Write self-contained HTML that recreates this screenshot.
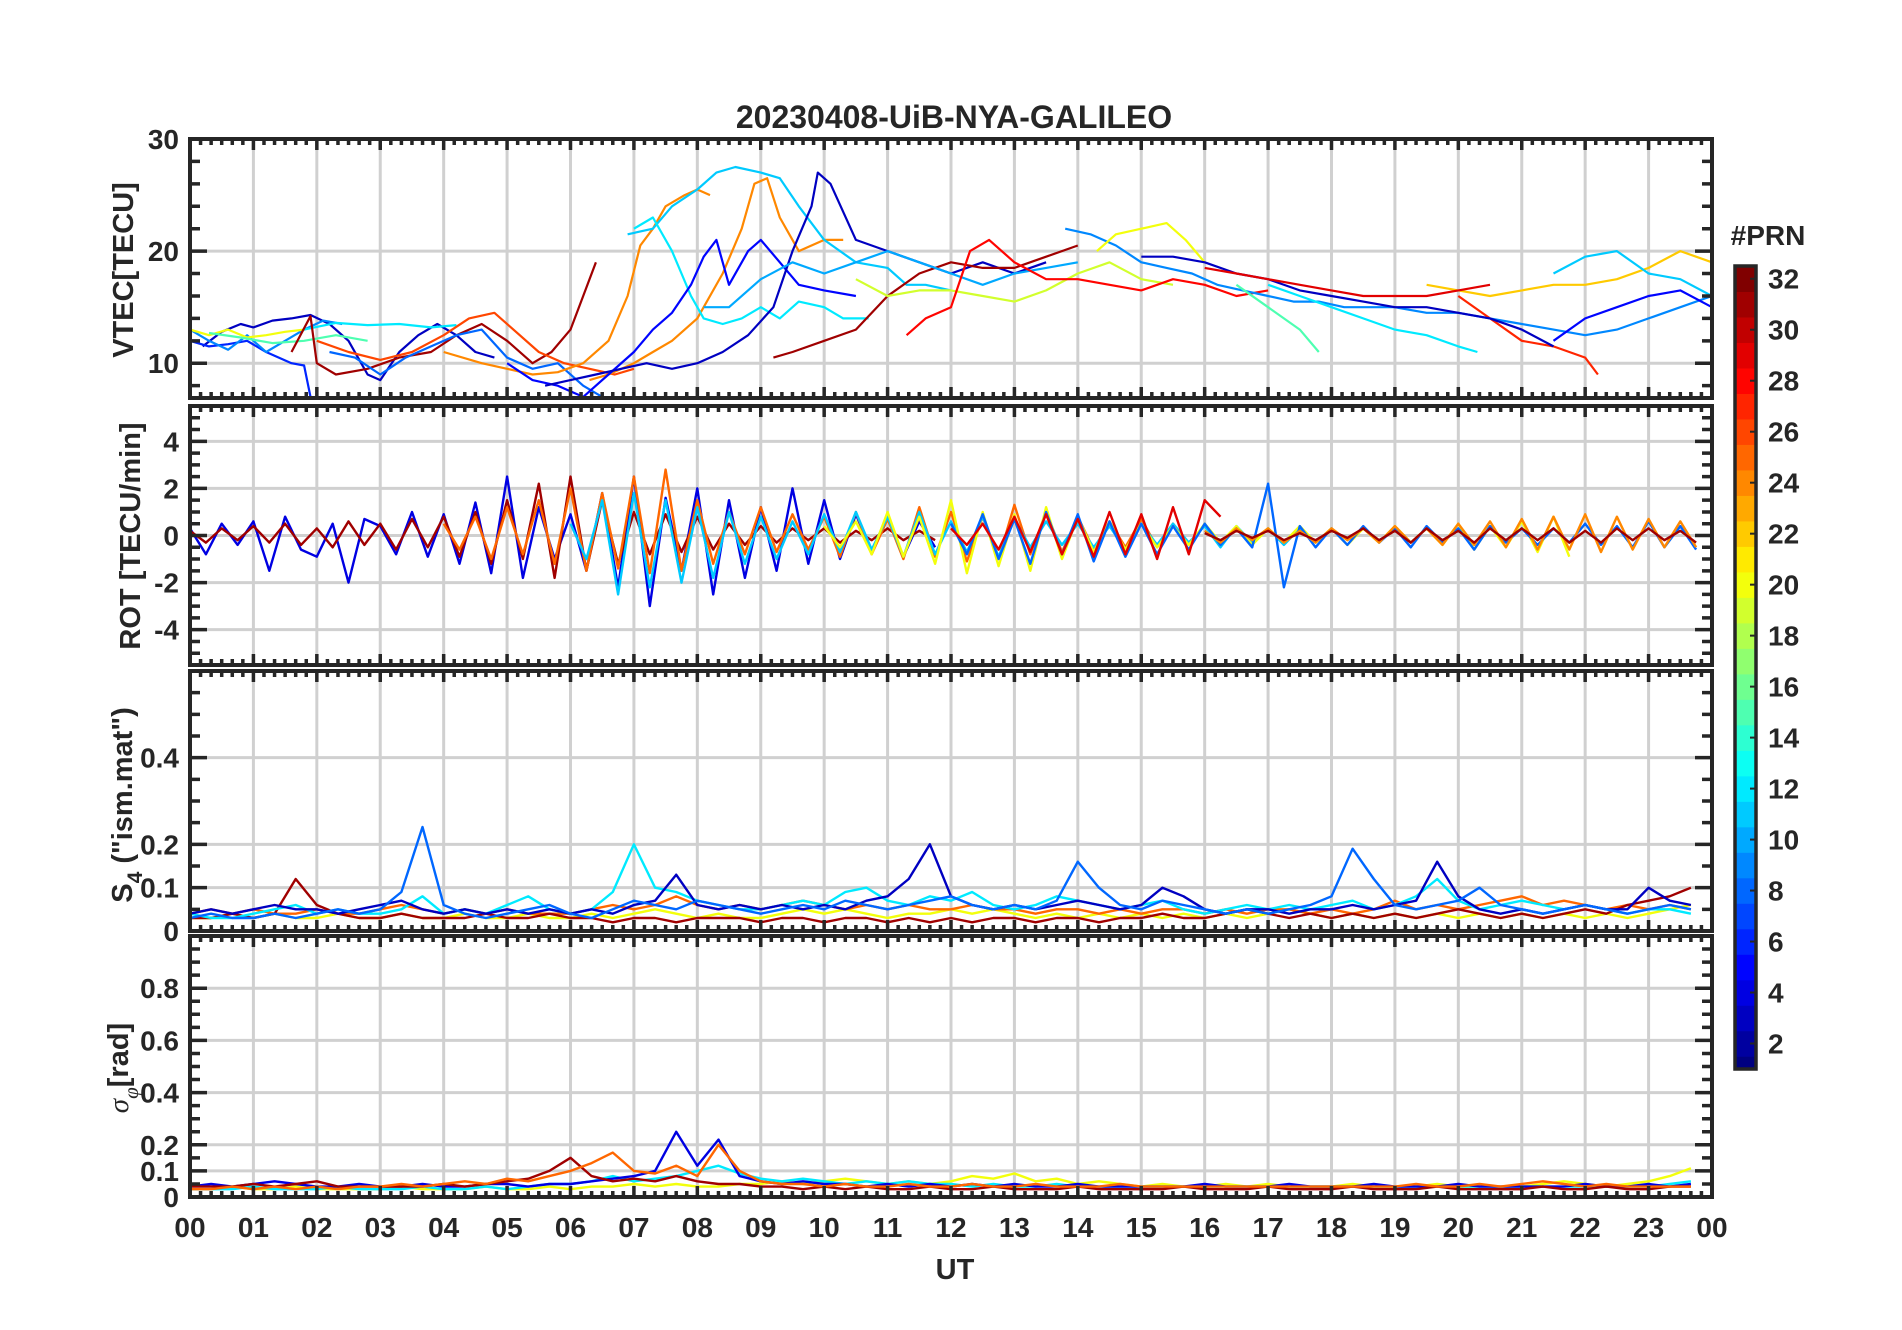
<!DOCTYPE html>
<html><head><meta charset="utf-8">
<style>
html,body{margin:0;padding:0;background:#fff;}
svg{display:block;}
text{font-family:"Liberation Sans",Arial,sans-serif;font-weight:bold;fill:#262626;}
</style></head>
<body>
<svg id="fig" xmlns="http://www.w3.org/2000/svg" width="1902" height="1330" viewBox="0 0 1902 1330">
<rect width="1902" height="1330" fill="#fff"/>
<text x="954" y="128" font-size="32" text-anchor="middle">20230408-UiB-NYA-GALILEO</text>
<g id="panels"></g>
<text x="955" y="1279" font-size="29" text-anchor="middle">UT</text>
<text transform="translate(133,270) rotate(-90)" font-size="29" text-anchor="middle">VTEC[TECU]</text>
<text transform="translate(140,536) rotate(-90)" font-size="29" text-anchor="middle">ROT [TECU/min]</text>
<text transform="translate(132,805) rotate(-90)" font-size="29" text-anchor="middle">S<tspan font-size="21" dy="10">4</tspan><tspan dy="-10"> ("ism.mat")</tspan></text>
<text transform="translate(128,1068) rotate(-90)" font-size="29" text-anchor="middle"><tspan font-style="italic" font-weight="normal" font-family="Liberation Serif, serif">σ</tspan><tspan font-size="21" dy="10" font-style="italic" font-weight="normal" font-family="Liberation Serif, serif">φ</tspan><tspan dy="-10">[rad]</tspan></text>
<g id="colorbar"></g>
<text x="1768" y="245" font-size="28" text-anchor="middle">#PRN</text>
</svg>
<script>
// ---------- data ----------
const hourLabels = ["00","01","02","03","04","05","06","07","08","09","10","11","12","13","14","15","16","17","18","19","20","21","22","23","00"];
const vtecTicks = [10,20,30];
const rotTicks = [-4,-2,0,2,4];
const s4Ticks = [0,0.1,0.2,0.4];
const sigTicks = [0,0.1,0.2,0.4,0.6,0.8];
const cbTicks = [2,4,6,8,10,12,14,16,18,20,22,24,26,28,30,32];

const vtecPrn = [3,6,9,20,15,12,31,8,26,24,24,11,12,5,3,31,10,19,28,9,20,22,27,3,12,11,29,5,15];
const vtecTimes = [
[0.2,0.5,0.8,1.0,1.3,1.6,1.9,2.2,2.5,2.8,3.0,3.3,3.6,3.9,4.2,4.5,4.8],
[0,0.3,0.6,0.9,1.2,1.4,1.6,1.8,1.9],
[0,0.3,0.6,0.9,1.2,1.5,1.8,2.1,2.4],
[0,0.3,0.6,0.9,1.2,1.5,1.8],
[0.3,0.8,1.3,1.8,2.3,2.8],
[1.8,2.3,2.8,3.3,3.8,4.2],
[1.6,1.9,2.0,2.3,2.8,3.3,3.8,4.2,4.6,5.0,5.4,5.7,6.0,6.2,6.4],
[2.2,2.6,3.0,3.4,3.8,4.2,4.6,5.0,5.4,5.8,6.2,6.5],
[2.0,2.5,3.0,3.5,4.0,4.4,4.8,5.1,5.5,5.9,6.3,6.7,7.0],
[4.0,4.6,5.0,5.4,5.8,6.2,6.6,6.9,7.1,7.3,7.5,7.8,8.0,8.2],
[6.3,6.6,7.0,7.3,7.6,8.0,8.4,8.7,8.9,9.1,9.3,9.6,10.0,10.3],
[6.9,7.3,7.6,8.0,8.3,8.6,9.0,9.3,9.6,10.0,10.5,11.0,11.3,11.6,12.0],
[7.0,7.3,7.6,7.9,8.1,8.4,8.7,9.0,9.3,9.6,10.0,10.3,10.7],
[5.0,5.4,5.8,6.2,6.6,7.0,7.3,7.6,7.9,8.1,8.3,8.5,8.8,9.0,9.3,9.6,10.0,10.5],
[5.6,6.0,6.4,6.8,7.2,7.6,8.0,8.4,8.8,9.2,9.5,9.8,9.9,10.1,10.5,11,11.5,12,12.5,13,13.5],
[9.2,9.5,10,10.5,11,11.5,12,12.5,13,13.5,14],
[8.1,8.5,9,9.5,10,10.5,11,11.5,12,12.5,13,13.5,14],
[10.5,11,11.5,12,12.5,13,13.5,14,14.5,15,15.5],
[11.3,11.6,12,12.3,12.6,13,13.5,14,14.5,15,15.5,16,16.5,17],
[13.8,14.2,14.6,15,15.4,15.8,16.2,16.6,17,17.4,17.8,18.2,18.6,19,19.5,20,20.5,21,21.5,22,22.5,23,23.5,24],
[14.3,14.6,15,15.4,15.7,16],
[19.5,20,20.5,21,21.5,22,22.5,23,23.5,24],
[20,20.5,21,21.5,22,22.2],
[15,15.5,16,16.5,17,17.5,18,18.5,19,19.5,20,20.5,21,21.5],
[17,17.5,18,18.5,19,19.5,20,20.3],
[21.5,22,22.5,23,23.5,24],
[16,16.5,17,17.5,18,18.5,19,19.5,20,20.5],
[21.5,22,22.5,23,23.5,24],
[16.5,17,17.5,17.8]
];
const vtecVals = [
[11.5,12.8,13.5,13.2,13.8,14,14.3,13.5,12,9,8.5,11,12.5,13.5,12.5,11,10.5],
[12,11.5,11.7,12,11,10.5,10,9.8,7],
[13,12,11.2,12.5,11,12,13,13.8,13.5],
[13,12.5,13,12.3,12.5,12.8,13],
[12.7,12.3,11.8,12,12.5,12],
[13,13.6,13.4,13.5,13.2,13.4],
[11,14.2,10,9,9.5,10.5,11,12.5,13.5,12,10,11,13,16,19],
[11,10.5,9,10.5,11.5,12.5,13,10.5,9.5,10,8,7],
[12,11,10.3,11,12.5,14,14.5,13,11,10,9.5,9,9.5],
[11,10,9.5,9,9.2,10,12,16,20.5,22,24,25,25.5,25],
[8.5,9,10,11,12,14,18,22,26,26.5,23,20,21,21],
[21.5,22,24,25.5,27,27.5,27,26.5,24,21,19,18.5,17,17,16.5],
[22,23,20,16,14,13.5,14,15,14,15.5,15,14,14],
[10,8.5,8,7,9,11,13,14.5,17,19.5,21,17,20,21,19,17,16.5,16],
[8,8.5,9,9.5,10,9.5,10,11,12.5,15,20,24,27,26,21,20,19,18,19,18,19],
[10.5,11,12,13,16,18,19,18.5,18.5,19.5,20.5],
[15,15,17.5,19,18,19,20,19,18,17,18,18.5,19],
[17.5,16,16.5,16.5,16,15.5,16.5,18,19,17.5,17],
[12.5,14,15,20,21,19,17.5,17.5,17,16.5,17.5,17,16,16.5],
[22,21.5,20.5,19,18.5,18,17,16.5,16,15.5,15.5,15,15,15,14.5,14.5,14,13.5,13,12.5,13,14,15,16],
[20,21.5,22,22.5,21,19],
[17,16.5,16,16.5,17,17,17.5,18.5,20,19],
[16,14,12,11.5,10.5,9],
[19.5,19.5,19,18,17.5,16.5,16,15.5,15,15,14.5,14,13,11.5],
[17,16,15,14,13,12.5,11.5,11],
[18,19.5,20,18,17.5,16],
[18.5,18,17.5,17,16.5,16,16,16,16.5,17],
[12,14,15,16,16.5,15],
[17,15,13,11]
];

const rotPrn = [4,31,25,11,20,8,24,29,31];
const rotStart = [0,0,4,6,10,12,16,12,16];
const rotVals = [
[0.3,-0.8,0.5,-0.4,0.6,-1.5,0.8,-0.6,-0.9,0.5,-2.0,0.7,0.4,-0.8,1.0,-0.9,0.9,-1.2,1.4,-1.6,2.5,-1.8,1.2,-1.0,0.9,-1.5,1.8,-2.2,2.5,-3.0,1.6,-1.5,2.0,-2.5,1.5,-1.8,1.2,-1.5,2.0,-1.2,1.5,-1.0,0.9,-0.7,0.8,-0.9,0.6,-0.5],
[0.2,-0.3,0.3,-0.2,0.4,-0.3,0.5,-0.4,0.3,-0.5,0.6,-0.4,0.5,-0.6,0.7,-0.5,0.8,-0.9,1.0,-1.2,1.5,-1.0,2.2,-1.8,2.5,-1.5,1.5,-1.2,1.0,-0.8,0.9,-0.7,0.8,-0.6,0.5,-0.4,0.4,-0.3,0.3,-0.2,0.3,-0.3,0.2,-0.2,0.3,-0.2,0.2,-0.2],
[0.5,-0.6,0.8,-1.0,1.2,-0.8,1.5,-1.2,2.0,-1.5,1.8,-1.4,2.5,-1.6,2.8,-1.5,1.5,-1.2,1.0,-0.8,1.2,-0.7,0.9,-0.6,0.8,-0.9,1.0,-0.8,0.7,-1.0,1.2,-0.9,1.0,-1.1,0.8,-1.0,1.3,-0.8,1.0,-0.7,0.8,-0.6,0.6,-0.5,0.7,-0.5,0.5,-0.4],
[0.5,-1.0,1.5,-2.5,1.8,-2.2,1.5,-2.0,1.2,-1.8,1.0,-1.2,0.8,-1.0,0.6,-0.8,0.9,-0.7,1.0,-0.6,0.8,-0.9,1.0,-0.8,0.6,-0.7,0.8,-0.9,0.7,-0.5,0.6,-0.4,0.5,-0.5,0.4,-0.6,0.5,-0.4,0.5,-0.3,0.4,-0.5,0.4,-0.3,0.3,-0.4,0.3,-0.3],
[0.4,-0.5,0.6,-0.8,1.0,-0.9,0.8,-1.2,1.5,-1.6,1.0,-1.3,0.9,-1.5,1.2,-1.0,0.8,-0.7,0.6,-0.6,0.5,-0.5,0.4,-0.4,0.5,-0.3,0.4,-0.4,0.3,-0.3,0.4,-0.3,0.3,-0.4,0.3,-0.3,0.4,-0.3,0.3,-0.4,0.5,-0.6,0.4,-0.5,0.6,-0.7,0.8,-0.9],
[0.5,-0.8,0.9,-1.0,0.7,-1.2,1.0,-0.8,0.9,-1.1,0.6,-0.9,0.5,-0.8,0.4,-0.6,0.5,-0.4,0.3,-0.5,2.2,-2.2,0.4,-0.5,0.3,-0.4,0.4,-0.3,0.3,-0.5,0.4,-0.3,0.3,-0.6,0.4,-0.3,0.3,-0.4,0.3,-0.3,0.5,-0.4,0.4,-0.5,0.6,-0.5,0.4,-0.6],
[0.2,-0.3,0.3,-0.2,0.3,-0.3,0.2,-0.3,0.3,-0.2,0.3,-0.3,0.4,-0.3,0.3,-0.4,0.5,-0.4,0.6,-0.5,0.7,-0.6,0.8,-0.6,0.9,-0.7,0.8,-0.6,0.7,-0.5,0.6,-0.5],
[0.3,-0.4,0.5,-0.6,0.8,-0.7,0.9,-0.8,0.7,-0.9,1.0,-0.8,0.9,-1.0,1.2,-0.8,1.5,0.8],
[0.1,-0.2,0.2,-0.1,0.2,-0.2,0.1,-0.2,0.2,-0.1,0.3,-0.2,0.2,-0.3,0.3,-0.2,0.2,-0.3,0.3,-0.2,0.3,-0.2,0.3,-0.3,0.2,-0.3,0.3,-0.2,0.3,-0.2,0.2,-0.3]
];

const s4Prn = [20,25,31,12,3,8];
const s4Vals = [
[0.03,0.03,0.04,0.03,0.04,0.03,0.03,0.04,0.03, 0.03,0.04,0.03,0.03,0.04,0.03,0.03,0.04,0.03, 0.03,0.04,0.03,0.04,0.05,0.04,0.03,0.04,0.03, 0.03,0.04,0.05,0.04,0.05,0.04,0.03,0.04,0.04, 0.05,0.04,0.05,0.04,0.03,0.04,0.03,0.04,0.03, 0.04,0.03,0.04,0.03,0.04,0.03,0.04,0.05,0.04, 0.03,0.04,0.03,0.04,0.03,0.04,0.03,0.04,0.03, 0.04,0.03,0.04,0.03,0.04,0.03,0.04,0.05,0.06],
[0.04,0.05,0.04,0.05,0.04,0.04,0.05,0.04,0.04, 0.05,0.06,0.05,0.04,0.05,0.04,0.05,0.04,0.04, 0.04,0.05,0.06,0.05,0.06,0.08,0.06,0.05,0.06, 0.05,0.06,0.07,0.06,0.05,0.06,0.05,0.06,0.05, 0.05,0.06,0.05,0.05,0.04,0.05,0.05,0.04,0.05, 0.04,0.05,0.05,0.04,0.05,0.04,0.05,0.05,0.04, 0.05,0.04,0.05,0.07,0.05,0.06,0.05,0.06,0.07, 0.08,0.06,0.07,0.06,0.05,0.06,0.05,0.06,0.05],
[0.03,0.03,0.04,0.03,0.04,0.12,0.06,0.04,0.03, 0.03,0.04,0.03,0.03,0.03,0.04,0.03,0.03,0.04, 0.03,0.03,0.02,0.03,0.03,0.02,0.03,0.03,0.03, 0.02,0.03,0.03,0.02,0.03,0.03,0.02,0.03,0.02, 0.03,0.02,0.03,0.03,0.02,0.03,0.03,0.02,0.03, 0.03,0.04,0.03,0.03,0.04,0.05,0.04,0.03,0.04, 0.03,0.04,0.03,0.04,0.03,0.04,0.05,0.04,0.03, 0.04,0.03,0.04,0.05,0.04,0.06,0.07,0.08,0.10],
[0.04,0.03,0.03,0.04,0.05,0.06,0.04,0.05,0.04, 0.04,0.05,0.08,0.04,0.05,0.04,0.06,0.08,0.05, 0.04,0.05,0.09,0.20,0.10,0.09,0.07,0.06,0.05, 0.05,0.06,0.07,0.06,0.09,0.10,0.07,0.06,0.08, 0.07,0.09,0.06,0.05,0.06,0.08,0.07,0.06,0.05, 0.06,0.07,0.05,0.04,0.05,0.06,0.05,0.06,0.05, 0.06,0.07,0.05,0.06,0.08,0.12,0.07,0.05,0.06, 0.07,0.06,0.05,0.06,0.05,0.04,0.05,0.05,0.04],
[0.04,0.05,0.04,0.05,0.06,0.05,0.05,0.04,0.05, 0.06,0.07,0.05,0.04,0.05,0.04,0.05,0.04,0.05, 0.04,0.05,0.04,0.06,0.07,0.13,0.06,0.05,0.06, 0.05,0.06,0.05,0.06,0.05,0.07,0.08,0.12,0.20, 0.08,0.06,0.05,0.06,0.05,0.06,0.07,0.06,0.05, 0.06,0.10,0.08,0.05,0.04,0.05,0.05,0.04,0.05, 0.05,0.06,0.05,0.06,0.07,0.16,0.08,0.05,0.04, 0.05,0.04,0.05,0.06,0.05,0.05,0.10,0.07,0.06],
[0.03,0.04,0.03,0.03,0.04,0.03,0.04,0.05,0.04, 0.05,0.09,0.24,0.06,0.04,0.03,0.04,0.05,0.06, 0.04,0.03,0.05,0.07,0.06,0.05,0.07,0.06,0.05, 0.04,0.05,0.06,0.05,0.07,0.06,0.05,0.06,0.07, 0.08,0.06,0.05,0.06,0.05,0.07,0.16,0.10,0.06, 0.05,0.07,0.06,0.05,0.04,0.05,0.04,0.05,0.06, 0.08,0.19,0.12,0.06,0.05,0.06,0.07,0.10,0.06, 0.05,0.04,0.05,0.06,0.05,0.04,0.05,0.06,0.05]
];

const sigPrn = [20,12,4,31,25];
const sigVals = [
[0.03,0.03,0.04,0.03,0.03,0.04,0.03,0.03,0.03, 0.03,0.04,0.03,0.03,0.03,0.04,0.03,0.03,0.04, 0.03,0.04,0.04,0.05,0.04,0.05,0.04,0.04,0.05, 0.05,0.06,0.05,0.06,0.07,0.06,0.05,0.06,0.05, 0.06,0.08,0.07,0.09,0.06,0.07,0.05,0.06,0.05, 0.04,0.05,0.04,0.04,0.05,0.04,0.05,0.04,0.04, 0.04,0.05,0.04,0.04,0.04,0.05,0.04,0.04,0.04, 0.04,0.05,0.06,0.05,0.04,0.05,0.06,0.08,0.11],
[0.03,0.03,0.03,0.04,0.03,0.03,0.03,0.04,0.03, 0.03,0.03,0.04,0.03,0.03,0.04,0.03,0.04,0.05, 0.05,0.06,0.08,0.06,0.07,0.08,0.10,0.12,0.09, 0.07,0.06,0.07,0.06,0.05,0.06,0.05,0.06,0.05, 0.05,0.04,0.05,0.04,0.04,0.05,0.04,0.04,0.04, 0.04,0.04,0.04,0.04,0.04,0.04,0.04,0.04,0.04, 0.04,0.04,0.04,0.04,0.04,0.04,0.04,0.04,0.04, 0.04,0.04,0.04,0.04,0.04,0.04,0.04,0.05,0.06],
[0.04,0.05,0.04,0.05,0.06,0.05,0.04,0.04,0.05, 0.04,0.04,0.05,0.04,0.04,0.05,0.05,0.04,0.05, 0.05,0.06,0.07,0.08,0.10,0.25,0.12,0.22,0.08, 0.06,0.05,0.06,0.05,0.05,0.04,0.05,0.04,0.05, 0.04,0.05,0.04,0.05,0.04,0.04,0.05,0.04,0.04, 0.04,0.04,0.04,0.05,0.04,0.04,0.04,0.05,0.04, 0.04,0.04,0.05,0.04,0.04,0.04,0.05,0.04,0.04, 0.04,0.04,0.04,0.05,0.04,0.04,0.05,0.04,0.05],
[0.04,0.04,0.04,0.05,0.04,0.05,0.06,0.04,0.04, 0.04,0.04,0.04,0.05,0.04,0.05,0.06,0.07,0.10, 0.15,0.08,0.06,0.07,0.06,0.08,0.06,0.05,0.05, 0.04,0.04,0.03,0.04,0.03,0.04,0.03,0.03,0.04, 0.03,0.03,0.04,0.03,0.03,0.03,0.04,0.03,0.03, 0.03,0.03,0.04,0.03,0.03,0.03,0.04,0.03,0.03, 0.03,0.04,0.03,0.03,0.03,0.04,0.03,0.03,0.03, 0.03,0.04,0.03,0.03,0.04,0.03,0.03,0.04,0.04],
[0.03,0.03,0.04,0.03,0.04,0.03,0.04,0.03,0.04, 0.04,0.05,0.04,0.05,0.06,0.05,0.07,0.06,0.08, 0.10,0.13,0.17,0.10,0.09,0.12,0.08,0.20,0.10, 0.06,0.05,0.05,0.04,0.05,0.04,0.04,0.05,0.04, 0.04,0.05,0.04,0.04,0.05,0.04,0.04,0.04,0.05, 0.04,0.04,0.04,0.04,0.04,0.04,0.04,0.04,0.04, 0.04,0.04,0.04,0.04,0.05,0.04,0.04,0.05,0.04, 0.05,0.06,0.05,0.04,0.05,0.04,0.04,0.04,0.04]
];

// ---------- layout ----------
const NS = "http://www.w3.org/2000/svg";
const X0 = 190, X1 = 1712;
const panels = [
  {name:"vtec", top:139, bot:398, min:6.9, max:30, major:vtecTicks, minorStep:2, fmt:v=>String(v)},
  {name:"rot", top:406, bot:665, min:-5.5, max:5.5, major:rotTicks, minorStep:0.5, fmt:v=>String(v)},
  {name:"s4", top:671, bot:931, min:0, max:0.6, major:s4Ticks, minorStep:0.05, fmt:v=>v===0?"0":String(v)},
  {name:"sigma", top:936, bot:1197, min:0, max:1, major:sigTicks, minorStep:0.05, fmt:v=>v===0?"0":String(v)}
];
function xs(t){return X0 + (X1-X0)*t/24;}
function ysFor(p){return v => p.bot - (v-p.min)/(p.max-p.min)*(p.bot-p.top);}
function jet(prn){
  const x=(prn-1)/31, c=f=>Math.round(255*Math.max(0,Math.min(1,f)));
  return `rgb(${c(1.5-Math.abs(4*x-3))},${c(1.5-Math.abs(4*x-2))},${c(1.5-Math.abs(4*x-1))})`;
}
function mk(tag, attrs, parent){
  const e=document.createElementNS(NS,tag);
  for(const k in attrs) e.setAttribute(k,attrs[k]);
  parent.appendChild(e); return e;
}
const root=document.getElementById("panels");
const defs=mk("defs",{},root);

panels.forEach((p,pi)=>{
  const y=ysFor(p);
  const g=mk("g",{},root);
  
  
  const cp=mk("clipPath",{id:"clip"+pi},defs);
  mk("rect",{x:X0,y:p.top,width:X1-X0,height:p.bot-p.top},cp);
  for(let h=1;h<24;h++){
    const l=mk("line",{x1:xs(h),x2:xs(h),y1:p.top,y2:p.bot,stroke:"#d0d0d0","stroke-width":3},g);
    
    
  }
  p.major.forEach(v=>{
    if(v<=p.min||v>=p.max) return;
    const l=mk("line",{x1:X0,x2:X1,y1:y(v),y2:y(v),stroke:"#d0d0d0","stroke-width":3},g);
    
    
  });
  p.g=g; p.y=y; p.clip="url(#clip"+pi+")";
});

function drawLine(p, times, vals, prn, w){
  let d="";
  times.forEach((t,i)=>{ d += (i?"L":"M")+xs(t).toFixed(1)+","+p.y(vals[i]).toFixed(1); });
  const path=mk("path",{d:d,fill:"none",stroke:jet(prn),"stroke-width":w,"stroke-linejoin":"round","clip-path":p.clip},p.g);
  
  
}
vtecVals.forEach((vals,i)=>drawLine(panels[0], vtecTimes[i], vals, vtecPrn[i], 2.2));
rotVals.forEach((vals,i)=>drawLine(panels[1], vals.map((_,k)=>rotStart[i]+k*0.25), vals, rotPrn[i], 2.4));
s4Vals.forEach((vals,i)=>drawLine(panels[2], vals.map((_,k)=>k/3), vals, s4Prn[i], 2.4));
sigVals.forEach((vals,i)=>drawLine(panels[3], vals.map((_,k)=>k/3), vals, sigPrn[i], 2.4));

panels.forEach((p,pi)=>{
  const g=mk("g",{},root);
  
  
  let d="";
  for(let m=0;m<=144;m++){
    const x=xs(m/6), L=(m%6===0)?11:6;
    d+=`M${x},${p.top}v${L}M${x},${p.bot}v${-L}`;
  }
  const n=Math.round((p.max-p.min)/p.minorStep)+2;
  const start=Math.ceil(p.min/p.minorStep)*p.minorStep;
  for(let k=0;k<n;k++){
    const v=+(start+k*p.minorStep).toFixed(4);
    if(v<p.min||v>p.max) continue;
    const yy=p.y(v), isMaj=p.major.some(m=>Math.abs(m-v)<1e-6), L=isMaj?17:10;
    d+=`M${X0},${yy}h${L}M${X1},${yy}h${-L}`;
  }
  mk("path",{d:d,stroke:"#262626","stroke-width":3.5,fill:"none"},g);
  mk("rect",{x:X0,y:p.top,width:X1-X0,height:p.bot-p.top,fill:"none",stroke:"#262626","stroke-width":4},g);
  p.major.forEach(v=>{
    const t=mk("text",{x:179,y:p.y(v)+10,"font-size":28,"text-anchor":"end"},g);
    t.textContent=p.fmt(v);
    
    
  });
});
hourLabels.forEach((lab,i)=>{
  const t=mk("text",{x:xs(i),y:1237,"font-size":28,"text-anchor":"middle"},root);
  t.textContent=lab;
  
  
});
const cb=document.getElementById("colorbar");
const CBX=1735, CBW=21, CBT=266, CBB=1069;
const cy=v=>CBT+(32.5-v)*(CBB-CBT)/31.5;
for(let v=1;v<=32;v++){
  const top=v===32?CBT:cy(v+0.5), bot=v===1?CBB:cy(v-0.5);
  const r=mk("rect",{x:CBX,y:top,width:CBW,height:bot-top+0.5,fill:jet(v)},cb);
  
  
}
mk("rect",{x:CBX,y:CBT,width:CBW,height:CBB-CBT,fill:"none",stroke:"#262626","stroke-width":3.5},cb);
cbTicks.forEach(v=>{
  mk("line",{x1:CBX+CBW-6,x2:CBX+CBW,y1:cy(v),y2:cy(v),stroke:"#262626","stroke-width":2},cb);
  const t=mk("text",{x:1768,y:cy(v)+10,"font-size":28},cb);
  t.textContent=String(v);
  
  
});
</script>
</body></html>
